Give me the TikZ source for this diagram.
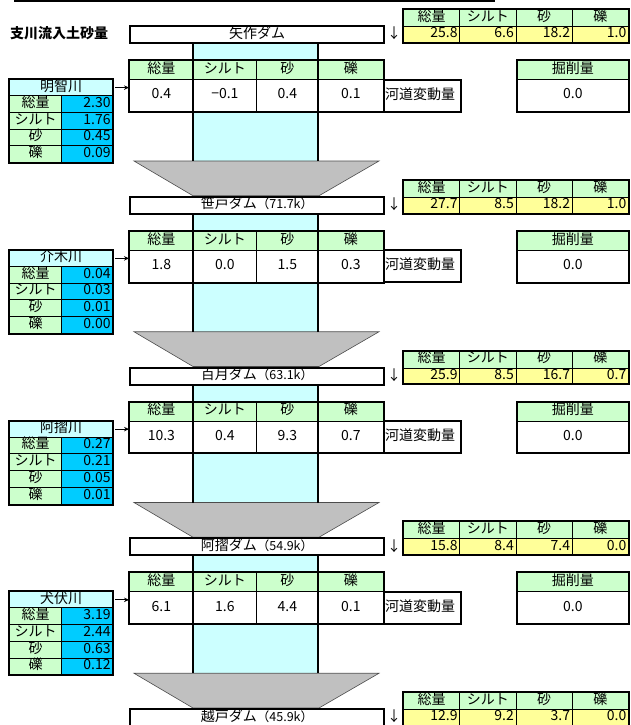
\documentclass[tikz,border=0pt]{standalone}
\usepackage{fontspec}
\setmainfont{Noto Sans CJK JP}
\usetikzlibrary{arrows.meta}
\definecolor{hgreen}{HTML}{CCFFCC}
\definecolor{yel}{HTML}{FFFF99}
\definecolor{lcyan}{HTML}{CCFFFF}
\definecolor{vblue}{HTML}{00CCFF}
\definecolor{fgray}{HTML}{C0C0C0}
\newcommand\fs{\fontsize{14}{15}\selectfont}
\newcommand\fsm{\fontsize{12.5}{13}\selectfont}
\begin{document}
\begin{tikzpicture}[x=1pt,y=-1pt,
 box/.style={draw=black,line width=0.8pt,inner sep=0pt,anchor=north west,font=\fs,text height=9.5pt,text depth=2.5pt},
 hdr/.style={box,fill=hgreen},
 num/.style={box,inner xsep=2pt,align=right},
 frame/.style={draw=black,line width=2pt},
 colline/.style={line width=2pt},
 funnel/.style={fill=fgray,draw=black!70,line width=0.6pt},
 feed/.style={line width=1pt,-{Stealth[length=5pt,width=4.5pt]},shorten <=2pt},
]
\useasboundingbox (0,0) rectangle (630,725);
\clip (0,0) rectangle (630,725);
\fill[white] (0,0) rectangle (630,725);
\draw[line width=2pt] (14,1) -- (495,1);
\node[font=\fs\bfseries,anchor=west,inner sep=0pt] (title) at (10,33) {支川流入土砂量};

% columns, funnels, middle tables, left tables
\foreach \i/\ma/\mb/\mc/\md/\river/\la/\lb/\lc/\ld in {
 0/0.4/−0.1/0.4/0.1/明智川/2.30/1.76/0.45/0.09,
 1/1.8/0.0/1.5/0.3/介木川/0.04/0.03/0.01/0.00,
 2/10.3/0.4/9.3/0.7/阿摺川/0.27/0.21/0.05/0.01,
 3/6.1/1.6/4.4/0.1/犬伏川/3.19/2.44/0.63/0.12}{
 \pgfmathsetmacro\Y{25+170.75*\i}
 \fill[lcyan] (193,\Y+17) rectangle (318,\Y+136);
 \filldraw[funnel] (134,\Y+136) -- (379,\Y+136) -- (319,\Y+170.75) -- (193,\Y+170.75) -- cycle;
 % middle table
 \node[hdr,minimum width=64pt,minimum height=19pt] (mha\i) at (129,\Y+35) {総量};
 \node[hdr,minimum width=63pt,minimum height=19pt] (mhb\i) at (193,\Y+35) {シルト};
 \node[hdr,minimum width=62pt,minimum height=19pt] (mhc\i) at (256,\Y+35) {砂};
 \node[hdr,minimum width=65pt,minimum height=19pt] (mhd\i) at (318,\Y+35) {礫};
 \node[box,fill=white,minimum width=64pt,minimum height=32pt] (mva\i) at (129,\Y+54) {\ma};
 \node[box,fill=white,minimum width=63pt,minimum height=32pt] (mvb\i) at (193,\Y+54) {\mb};
 \node[box,fill=white,minimum width=62pt,minimum height=32pt] (mvc\i) at (256,\Y+54) {\mc};
 \node[box,fill=white,minimum width=65pt,minimum height=32pt] (mvd\i) at (318,\Y+54) {\md};
 \draw[frame] (mha\i.north west) rectangle (mvd\i.south east);
 \draw[colline] (193,\Y+17) -- (193,\Y+136) (318,\Y+17) -- (318,\Y+136);
 % river bed change
 \node[box,frame,fill=white,minimum width=77pt,minimum height=32pt,text width=75pt,align=left,inner xsep=1pt] (kd\i) at (383,\Y+53.5) {河道変動量};
 % excavation
 \node[hdr,minimum width=111pt,minimum height=19pt] (kh\i) at (517,\Y+35) {掘削量};
 \node[box,fill=white,minimum width=111pt,minimum height=32pt] (kv\i) at (517,\Y+54) {0.0};
 \draw[frame] (kh\i.north west) rectangle (kv\i.south east);
 % left tributary table
 \node[box,line width=1.2pt,fill=lcyan,minimum width=103pt,minimum height=16pt] (lt\i) at (9,\Y+54) {\river};
 \node[hdr,line width=1.2pt,minimum width=52pt,minimum height=16.75pt] (lla\i) at (9,\Y+70) {総量};
 \node[hdr,line width=1.2pt,minimum width=52pt,minimum height=16.75pt] (llb\i) at (9,\Y+86.75) {シルト};
 \node[hdr,line width=1.2pt,minimum width=52pt,minimum height=16.75pt] (llc\i) at (9,\Y+103.5) {砂};
 \node[hdr,line width=1.2pt,minimum width=52pt,minimum height=16.75pt] (lld\i) at (9,\Y+120.25) {礫};
 \node[num,line width=1.2pt,fill=vblue,text width=47pt,minimum height=16.75pt] (lva\i) at (61,\Y+70) {\la};
 \node[num,line width=1.2pt,fill=vblue,text width=47pt,minimum height=16.75pt] (lvb\i) at (61,\Y+86.75) {\lb};
 \node[num,line width=1.2pt,fill=vblue,text width=47pt,minimum height=16.75pt] (lvc\i) at (61,\Y+103.5) {\lc};
 \node[num,line width=1.2pt,fill=vblue,text width=47pt,minimum height=16.75pt] (lvd\i) at (61,\Y+120.25) {\ld};
 \draw[frame] (lt\i.north west) rectangle (lvd\i.south east);
 \draw[feed] (lt\i.east) -- (lt\i.east -| mva\i.west);
}

% dam boxes and outflow tables
\foreach \i/\dam/\km/\ra/\rb/\rc/\rd in {
 0/矢作ダム//25.8/6.6/18.2/1.0,
 1/笹戸ダム/（71.7k）/27.7/8.5/18.2/1.0,
 2/百月ダム/（63.1k）/25.9/8.5/16.7/0.7,
 3/阿摺ダム/（54.9k）/15.8/8.4/7.4/0.0,
 4/越戸ダム/（45.9k）/12.9/9.2/3.7/0.0}{
 \pgfmathsetmacro\Y{25+170.75*\i}
 \node[box,frame,fill=white,minimum width=254pt,minimum height=17pt] (dam\i) at (129,\Y) {\dam{\fsm\km}};
 \node[font=\fs,inner sep=0pt] (down\i) at (394,\Y+8.5) {↓};
 \node[hdr,minimum width=56.25pt,minimum height=17pt] (rha\i) at (403,\Y-16) {総量};
 \node[hdr,minimum width=56.25pt,minimum height=17pt] (rhb\i) at (459.25,\Y-16) {シルト};
 \node[hdr,minimum width=56.25pt,minimum height=17pt] (rhc\i) at (515.5,\Y-16) {砂};
 \node[hdr,minimum width=56.25pt,minimum height=17pt] (rhd\i) at (571.75,\Y-16) {礫};
 \node[num,fill=yel,text width=52.25pt,minimum height=16pt] (rva\i) at (403,\Y+1) {\ra};
 \node[num,fill=yel,text width=52.25pt,minimum height=16pt] (rvb\i) at (459.25,\Y+1) {\rb};
 \node[num,fill=yel,text width=52.25pt,minimum height=16pt] (rvc\i) at (515.5,\Y+1) {\rc};
 \node[num,fill=yel,text width=52.25pt,minimum height=16pt] (rvd\i) at (571.75,\Y+1) {\rd};
 \draw[frame] (rha\i.north west) rectangle (rvd\i.south east);
}
\end{tikzpicture}
\end{document}
